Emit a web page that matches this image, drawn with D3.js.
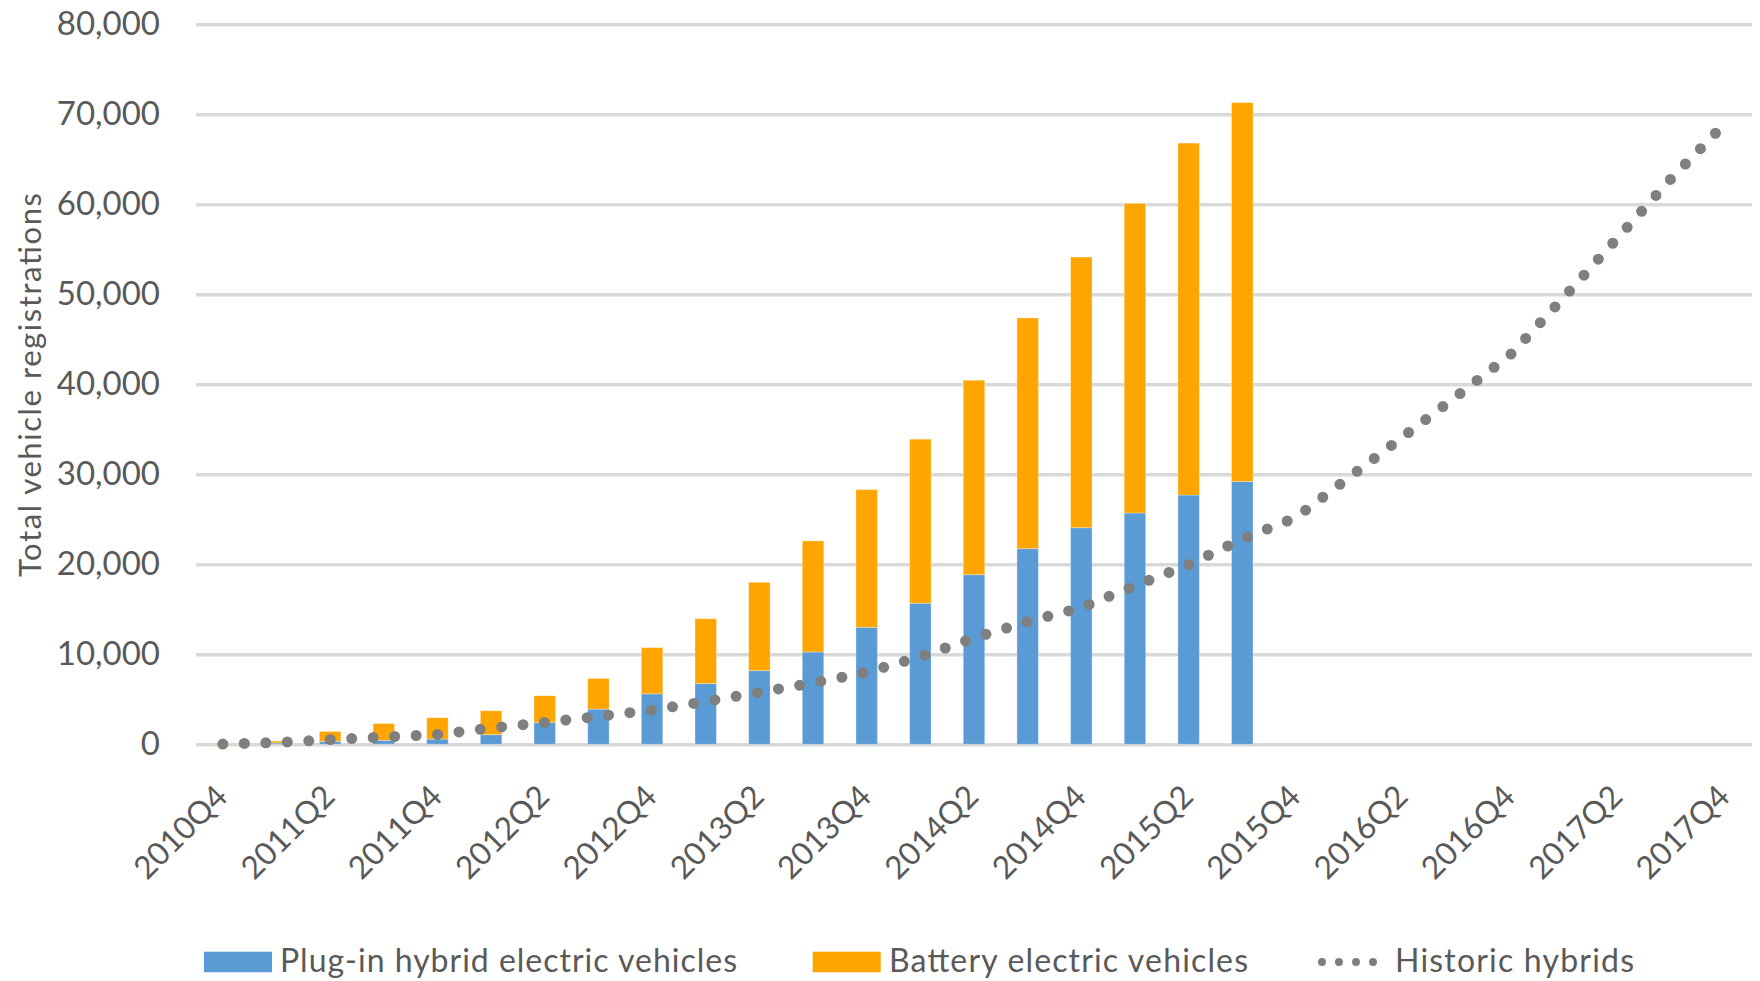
<!DOCTYPE html>
<html>
<head>
<meta charset="utf-8">
<script src="https://cdn.jsdelivr.net/npm/d3@7"></script>
<style>
  body { margin: 0; background: #ffffff; }
  svg { display: block; }
  text { font-family: Lato, "Open Sans", sans-serif; fill: #595959; }
</style>
</head>
<body>
<svg id="chart" width="1760" height="981"></svg>
<script>
// ---------------- data ----------------
const quarters = [
  "2010Q4","2011Q1","2011Q2","2011Q3","2011Q4","2012Q1","2012Q2","2012Q3",
  "2012Q4","2013Q1","2013Q2","2013Q3","2013Q4","2014Q1","2014Q2","2014Q3",
  "2014Q4","2015Q1","2015Q2","2015Q3","2015Q4","2016Q1","2016Q2","2016Q3",
  "2016Q4","2017Q1","2017Q2","2017Q3","2017Q4"
];
// stacked bars (2010Q4 .. 2015Q3)
const phev = [0, 150, 330, 440, 580, 1070, 2440, 3910, 5610, 6750, 8190, 10260,
  13000, 15670, 18850, 21740, 24070, 25700, 27700, 29200];
const bev = [50, 200, 1090, 1870, 2380, 2660, 2950, 3400, 5130, 7200, 9810, 12340,
  15300, 18230, 21600, 25630, 30070, 34400, 39100, 42100];
// historic hybrids line (2010Q4 .. 2017Q4)
const hybrids = [30, 200, 520, 810, 1090, 1810, 2440, 3100, 3800, 4750, 5780, 6810,
  8000, 9740, 11810, 13630, 15190, 17600, 19960, 22800, 25200, 29700, 34200, 38700,
  43300, 49700, 56300, 62900, 69000];
const yTicks = [0, 10000, 20000, 30000, 40000, 50000, 60000, 70000, 80000];
const xTickLabels = ["2010Q4","2011Q2","2011Q4","2012Q2","2012Q4","2013Q2","2013Q4",
  "2014Q2","2014Q4","2015Q2","2015Q4","2016Q2","2016Q4","2017Q2","2017Q4"];
const seriesNames = ["Plug-in hybrid electric vehicles", "Battery electric vehicles", "Historic hybrids"];
const yTitle = "Total vehicle registrations";

// ---------------- layout ----------------
const W = 1760, H = 981;
const plot = { left: 196, right: 1752, top: 24.3, bottom: 744.3 };
const colors = { phev: "#5b9bd5", bev: "#ffa500", line: "#7f7f7f", grid: "#d9d9d9" };

const svg = d3.select("#chart");
svg.append("rect").attr("width", W).attr("height", H).attr("fill", "#fff");

const x = d3.scaleBand().domain(quarters)
  .range([plot.left, plot.right]).paddingInner(0.6).paddingOuter(0.3);
const y = d3.scaleLinear().domain([0, 80000]).range([plot.bottom, plot.top]);

// y axis with gridlines
const yAxis = svg.append("g")
  .attr("transform", `translate(${plot.left},0)`)
  .call(d3.axisLeft(y).tickValues(yTicks).tickFormat(d3.format(","))
    .tickSize(-(plot.right - plot.left)).tickPadding(36));
yAxis.select(".domain").remove();
yAxis.selectAll("line").attr("stroke", colors.grid).attr("stroke-width", 3.5);
yAxis.selectAll("text").attr("font-size", 33).attr("fill", "#595959");

// stacked bars
const barRows = phev.map((p, i) => ({ q: quarters[i], phev: p, bev: bev[i] }));
const stacked = d3.stack().keys(["phev", "bev"])(barRows);
svg.append("g").selectAll("g").data(stacked).join("g")
  .attr("fill", d => colors[d.key])
  .selectAll("rect").data(d => d).join("rect")
  .attr("x", d => x(d.data.q))
  .attr("width", x.bandwidth())
  .attr("y", d => y(d[1]))
  .attr("height", d => Math.max(0, y(d[0]) - y(d[1])))
  .attr("stroke", "#ffffff").attr("stroke-width", 1).attr("stroke-opacity", 0.3);

// historic hybrids dotted line
const line = d3.line()
  .x((d, i) => x(quarters[i]) + x.bandwidth() / 2)
  .y(d => y(d));
svg.append("path").datum(hybrids)
  .attr("d", line)
  .attr("fill", "none")
  .attr("stroke", colors.line)
  .attr("stroke-width", 11)
  .attr("stroke-linecap", "round")
  .attr("stroke-dasharray", "0 21.5");

// x axis labels
const xAxis = svg.append("g")
  .attr("transform", `translate(0,${plot.bottom})`)
  .call(d3.axisBottom(x).tickValues(xTickLabels).tickSize(0));
xAxis.select(".domain").remove();
xAxis.selectAll("text")
  .attr("font-size", 31.5)
  .attr("fill", "#595959")
  .attr("text-anchor", "end")
  .attr("x", 0).attr("y", 0).attr("dy", 0)
  .attr("transform", "translate(6.5,54.2) rotate(-45)");

// y axis title
svg.append("text")
  .attr("transform", "translate(29,385) rotate(-90)")
  .attr("text-anchor", "middle")
  .attr("dominant-baseline", "central")
  .attr("font-size", 31)
  .attr("textLength", 384)
  .attr("lengthAdjust", "spacing")
  .text(yTitle);

// legend
const legendY = 959;
const legendItems = [
  { name: seriesNames[0], type: "rect", color: colors.phev, sx: 204, tx: 280, tw: 457 },
  { name: seriesNames[1], type: "rect", color: colors.bev, sx: 812.7, tx: 889, tw: 359 },
  { name: seriesNames[2], type: "line", color: colors.line, sx: 1322, tx: 1395, tw: 239 }
];
const lg = svg.append("g").selectAll("g").data(legendItems).join("g");
lg.filter(d => d.type === "rect").append("rect")
  .attr("x", d => d.sx).attr("y", legendY + 3 - 10.3)
  .attr("width", 68).attr("height", 20.6)
  .attr("fill", d => d.color);
lg.filter(d => d.type === "line").append("line")
  .attr("x1", d => d.sx).attr("x2", d => d.sx + 68)
  .attr("y1", legendY + 3).attr("y2", legendY + 3)
  .attr("stroke", d => d.color).attr("stroke-width", 8)
  .attr("stroke-linecap", "round").attr("stroke-dasharray", "0 17");
lg.append("text")
  .attr("x", d => d.tx).attr("y", legendY)
  .attr("dominant-baseline", "central")
  .attr("font-size", 32)
  .attr("textLength", d => d.tw)
  .attr("lengthAdjust", "spacing")
  .text(d => d.name);
</script>
</body>
</html>
